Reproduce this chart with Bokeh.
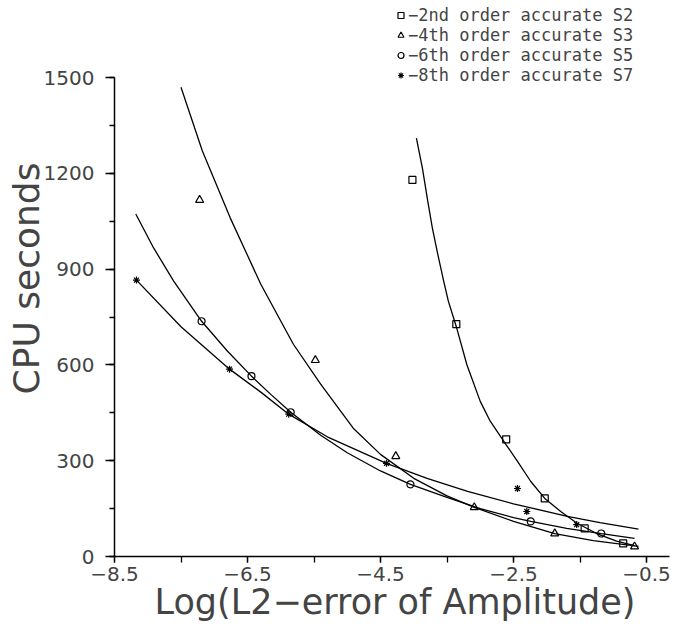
from bokeh.plotting import figure
from bokeh.models import Range1d, FixedTicker, Legend, LegendItem
from bokeh.embed import file_html
from bokeh.resources import INLINE

# ---- data ----
# markers: x = Log(L2-error of Amplitude), y = CPU seconds
s2_x = [-4.02, -3.36, -2.61, -2.03, -1.43, -0.85]
s2_y = [1180, 728, 367, 182, 88, 41]
s3_x = [-7.22, -5.48, -4.27, -3.09, -1.88, -0.68]
s3_y = [1117, 615, 314, 154, 72, 31]
s5_x = [-7.19, -6.44, -5.85, -4.05, -2.24, -1.18]
s5_y = [737, 565, 452, 226, 110, 72]
s7_x = [-8.17, -6.77, -5.88, -4.41, -2.44, -2.30, -1.55]
s7_y = [866, 587, 446, 292, 213, 141, 100]

# fitted curves
c2_x = [-3.96, -3.87, -3.79, -3.72, -3.64, -3.55, -3.48, -3.36, -3.20, -3.00,
        -2.85, -2.61, -2.44, -2.24, -2.03, -1.79, -1.55, -1.25, -0.95, -0.68]
c2_y = [1311, 1217, 1114, 1029, 948, 863, 800, 720, 600, 486,
        424, 350, 298, 235, 182, 141, 105, 72, 48, 34]
c3_x = [-7.50, -7.18, -6.76, -6.30, -5.81, -5.40, -4.91, -4.50, -4.00, -3.50,
        -3.09, -2.50, -1.88, -1.30, -0.62]
c3_y = [1470, 1271, 1061, 853, 665, 540, 402, 320, 245, 190,
        154, 110, 72, 50, 32]
c5_x = [-8.18, -7.91, -7.61, -7.19, -6.80, -6.44, -6.15, -5.85, -5.40, -5.00,
        -4.50, -4.05, -3.50, -3.00, -2.50, -2.24, -1.70, -1.18, -0.68]
c5_y = [1073, 966, 863, 737, 643, 565, 508, 452, 380, 325,
        268, 226, 185, 150, 122, 110, 88, 72, 57]
c7_x = [-8.17, -7.50, -6.77, -6.30, -5.88, -5.30, -4.41, -3.80, -3.19, -2.50,
        -1.69, -1.20, -0.62]
c7_y = [866, 720, 587, 515, 446, 375, 292, 245, 204, 165, 126, 106, 86]

x_ticks = [-8.5, -6.5, -4.5, -2.5, -0.5]
x_tick_labels = ["\u22128.5", "\u22126.5", "\u22124.5", "\u22122.5", "\u22120.5"]
x_minor = [-8.5, -7.5, -6.5, -5.5, -4.5, -3.5, -2.5, -1.5, -0.5]
y_ticks = [0, 300, 600, 900, 1200, 1500]
y_minor = [0, 150, 300, 450, 600, 750, 900, 1050, 1200, 1350, 1500]

legend_labels = ["\u22122nd order accurate S2", "\u22124th order accurate S3",
                 "\u22126th order accurate S5", "\u22128th order accurate S7"]

FONT = "DejaVu Sans"
LEGEND_FONT = "DejaVu Sans Mono"

p = figure(width=675, height=629, output_backend="svg", toolbar_location=None,
           x_range=Range1d(-8.5, -0.064), y_range=Range1d(0, 1742),
           min_border_left=114, min_border_right=0, min_border_top=0,
           min_border_bottom=73)
p.outline_line_color = None
p.grid.visible = False

for cx, cy in [(c2_x, c2_y), (c3_x, c3_y), (c5_x, c5_y), (c7_x, c7_y)]:
    p.line(cx, cy, line_color="black", line_width=1.3)

r2 = p.scatter(s2_x, s2_y, marker="square", size=7, fill_color=None,
               line_color="black", line_width=1.2)
r3 = p.scatter(s3_x, s3_y, marker="triangle", size=8, fill_color=None,
               line_color="black", line_width=1.2)
r5 = p.scatter(s5_x, s5_y, marker="circle", size=7, fill_color=None,
               line_color="black", line_width=1.2)
r7 = p.scatter(s7_x, s7_y, marker="asterisk", size=7, fill_color=None,
               line_color="black", line_width=1.2)

xa = p.xaxis[0]
xa.ticker = FixedTicker(ticks=x_ticks, minor_ticks=x_minor)
xa.major_label_overrides = dict(zip(x_ticks, x_tick_labels))
xa.bounds = (-8.5, -0.15)
xa.axis_line_width = 1.5
xa.major_tick_in = 0
xa.major_tick_out = 6
xa.minor_tick_in = 0
xa.minor_tick_out = 6
xa.major_tick_line_width = 1.3
xa.minor_tick_line_width = 1.3
xa.major_label_text_font = FONT
xa.major_label_text_font_size = "20px"
xa.major_label_standoff = 4
xa.axis_label = "Log(L2\u2212error of Amplitude)"
xa.axis_label_text_font = FONT
xa.axis_label_text_font_size = "35px"
xa.axis_label_text_font_style = "normal"
xa.axis_label_standoff = -2

ya = p.yaxis[0]
ya.ticker = FixedTicker(ticks=y_ticks, minor_ticks=y_minor)
ya.bounds = (0, 1500)
ya.axis_line_width = 1.5
ya.major_tick_in = 0
ya.major_tick_out = 9
ya.minor_tick_in = 0
ya.minor_tick_out = 5
ya.major_tick_line_width = 1.3
ya.minor_tick_line_width = 1.3
ya.major_label_text_font = FONT
ya.major_label_text_font_size = "20px"
ya.major_label_standoff = 11
ya.axis_label = "CPU seconds"
ya.axis_label_text_font = FONT
ya.axis_label_text_font_size = "36px"
ya.axis_label_text_font_style = "normal"
ya.axis_label_standoff = -6

# one legend per row so the row pitch can follow the reference
row_y = [531, 511, 491, 471]
for lab, r, ly in zip(legend_labels, [r2, r3, r5, r7], row_y):
    lg = Legend(items=[LegendItem(label=lab, renderers=[r])], location=(279, ly),
                orientation="vertical", glyph_width=15, glyph_height=20,
                label_height=20, spacing=0, padding=0, margin=0,
                label_standoff=0, border_line_color=None,
                background_fill_alpha=0, label_text_font=LEGEND_FONT,
                label_text_font_size="17px")
    p.add_layout(lg)

open("out.html", "w").write(file_html(p, INLINE))
